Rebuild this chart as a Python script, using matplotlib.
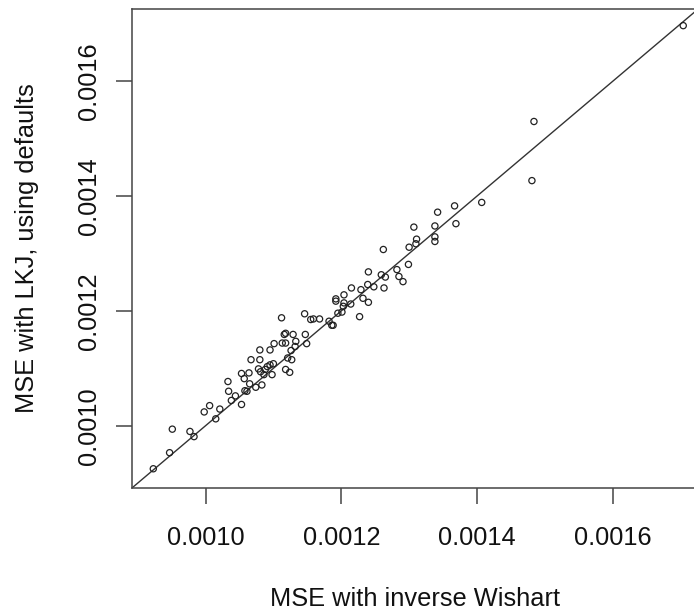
import numpy as np
import matplotlib
matplotlib.use('Agg')
from matplotlib import pyplot as plt

# MSE values (inverse Wishart vs LKJ defaults)
mse_wishart = [
    0.000923, 0.000947, 0.000951, 0.000977, 0.000983, 0.000998, 0.001006, 0.001015,
    0.001021, 0.001033, 0.001034, 0.001038, 0.001044, 0.001053, 0.001053, 0.001057,
    0.001064, 0.001058, 0.001061, 0.001065, 0.001067, 0.001074, 0.001080, 0.001080,
    0.001078, 0.001081, 0.001083, 0.001086, 0.001088, 0.001091, 0.001095, 0.001095,
    0.001098, 0.001101, 0.001100, 0.001112, 0.001113, 0.001116, 0.001118, 0.001118,
    0.001118, 0.001121, 0.001124, 0.001127, 0.001126, 0.001129, 0.001132, 0.001133,
    0.001146, 0.001147, 0.001149, 0.001155, 0.001159, 0.001168, 0.001182, 0.001186,
    0.001188, 0.001192, 0.001192, 0.001195, 0.001201, 0.001203, 0.001204, 0.001204,
    0.001214, 0.001215, 0.001227, 0.001229, 0.001232, 0.001239, 0.001240, 0.001240,
    0.001248, 0.001259, 0.001262, 0.001263, 0.001265, 0.001282, 0.001285, 0.001291,
    0.001299, 0.001300, 0.001307, 0.001310, 0.001311, 0.001338, 0.001338, 0.001338,
    0.001342, 0.001367, 0.001369, 0.001407, 0.001481, 0.001484, 0.001704,
]
mse_lkj = [
    0.000925, 0.000953, 0.000994, 0.000990, 0.000981, 0.001024, 0.001035, 0.001012,
    0.001029, 0.001077, 0.001060, 0.001044, 0.001052, 0.001037, 0.001091, 0.001082,
    0.001092, 0.001061, 0.001060, 0.001073, 0.001115, 0.001067, 0.001115, 0.001132,
    0.001099, 0.001094, 0.001071, 0.001089, 0.001098, 0.001103, 0.001106, 0.001132,
    0.001089, 0.001143, 0.001108, 0.001188, 0.001144, 0.001159, 0.001161, 0.001144,
    0.001098, 0.001118, 0.001093, 0.001115, 0.001131, 0.001159, 0.001138, 0.001147,
    0.001195, 0.001159, 0.001143, 0.001185, 0.001186, 0.001186, 0.001182, 0.001175,
    0.001175, 0.001221, 0.001217, 0.001196, 0.001198, 0.001208, 0.001228, 0.001214,
    0.001212, 0.001240, 0.001190, 0.001237, 0.001222, 0.001246, 0.001215, 0.001268,
    0.001242, 0.001263, 0.001307, 0.001240, 0.001259, 0.001272, 0.001260, 0.001251,
    0.001281, 0.001311, 0.001346, 0.001317, 0.001325, 0.001348, 0.001329, 0.001321,
    0.001372, 0.001383, 0.001352, 0.001389, 0.001427, 0.001530, 0.001697,
]
tick_values = [0.0010, 0.0012, 0.0014, 0.0016]
tick_labels = ['0.0010', '0.0012', '0.0014', '0.0016']
lims = (0.000892, 0.001726)

plt.rcParams['font.family'] = ['Liberation Sans', 'DejaVu Sans']

fig = plt.figure(figsize=(6.94, 6.12), dpi=100)
# the reference is cropped on the right, so the box runs slightly past the edge
ax = fig.add_axes([0.1906, 0.2031, 0.8154, 0.7822])

ax.scatter(mse_wishart, mse_lkj, s=20, facecolors='none', edgecolors='#222222',
           linewidths=0.9, zorder=3)
ax.axline((lims[0], lims[0]), (lims[1], lims[1]), color='#333333', linewidth=1.0)

ax.set_xlim(lims)
ax.set_ylim(lims)
ax.set_xticks(tick_values)
ax.set_xticklabels(tick_labels)
ax.set_yticks(tick_values)
ax.set_yticklabels(tick_labels, rotation=90, va='center')

for side in ax.spines.values():
    side.set_color('#444444')
    side.set_linewidth(1.1)
ax.tick_params(length=11.5, width=1.1, color='#444444', labelsize=18.3,
               labelcolor='#111111')
ax.tick_params(axis='x', pad=16)
ax.tick_params(axis='y', pad=11)

ax.set_xlabel('MSE with inverse Wishart', fontsize=18.3, color='#111111', labelpad=27)
ax.set_ylabel('MSE with LKJ, using defaults', fontsize=18.3, color='#111111', labelpad=27.5)

fig.savefig('out.png', dpi=100)
